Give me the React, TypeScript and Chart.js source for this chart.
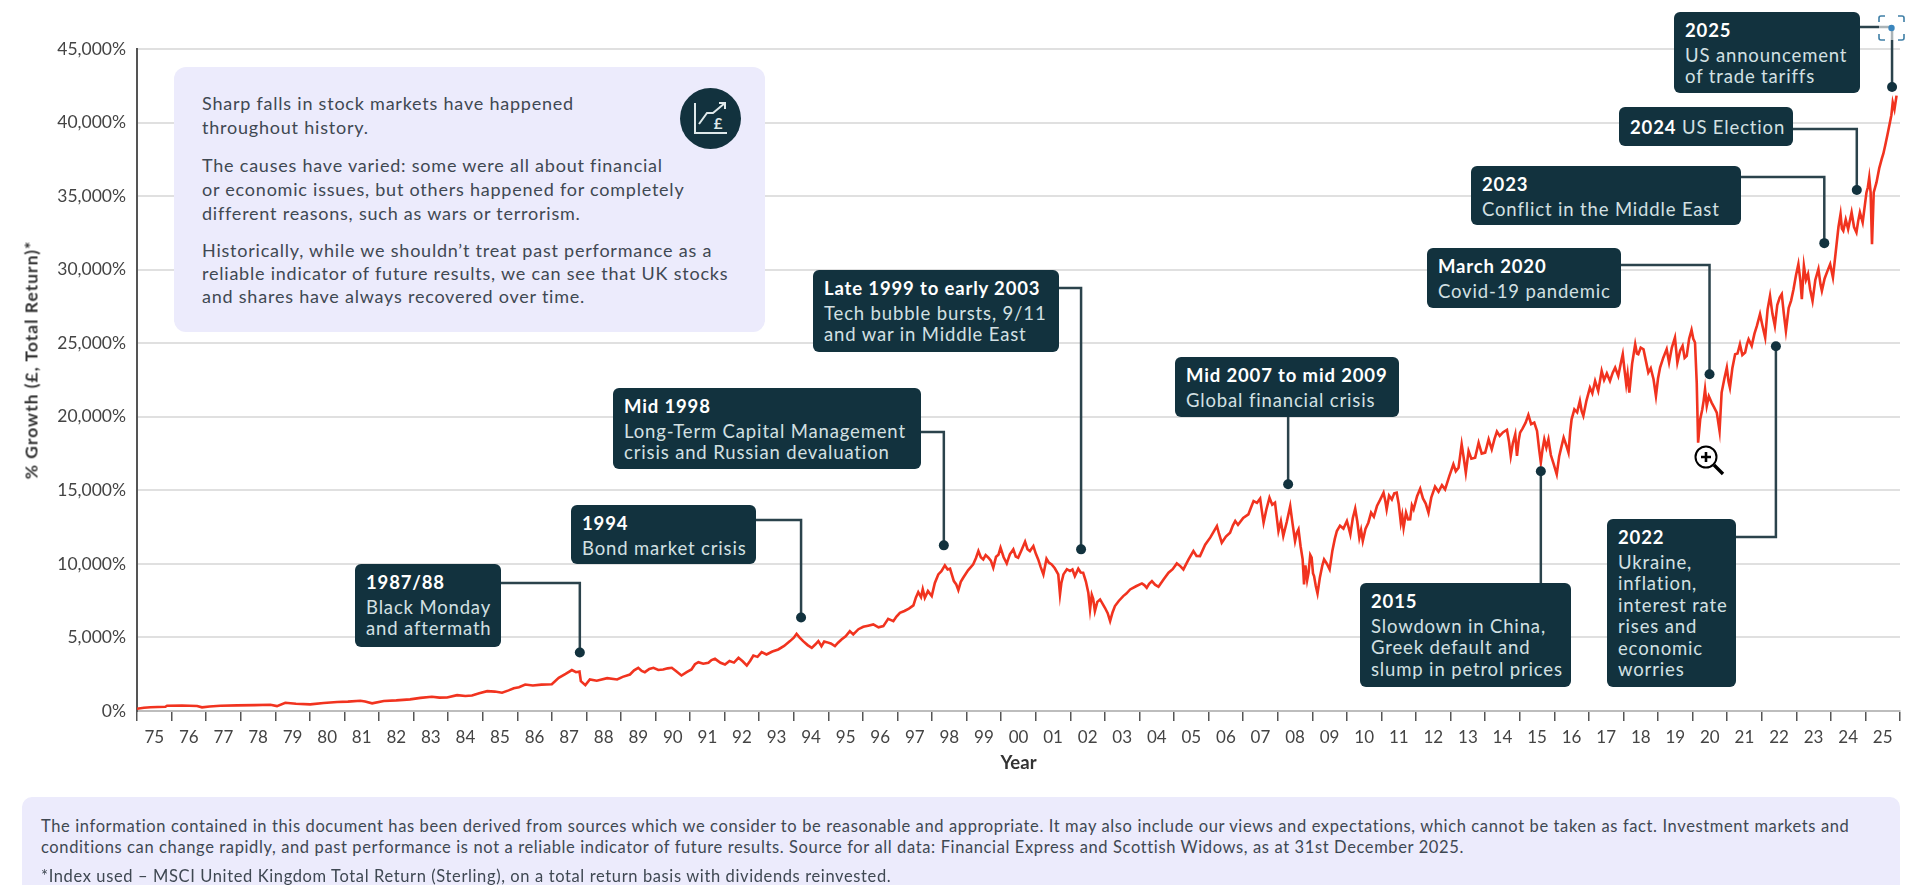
import { useEffect, useRef } from "react";
import Chart from "chart.js/auto";

const yearLabels = [
  "75", "76", "77", "78", "79", "80", "81", "82", "83", "84", "85", "86", "87",
  "88", "89", "90", "91", "92", "93", "94", "95", "96", "97", "98", "99", "00",
  "01", "02", "03", "04", "05", "06", "07", "08", "09", "10", "11", "12", "13",
  "14", "15", "16", "17", "18", "19", "20", "21", "22", "23", "24", "25",
];

// [position along the axis, % growth]
const growthSeries: [number, number][] = [
  [1975, 150], [1975.2, 220], [1975.39, 260], [1975.6, 270], [1975.82, 285], [1975.87, 360], [1976.3, 370], [1976.74, 340], [1976.88, 250],
  [1977.1, 310], [1977.41, 360], [1977.9, 385], [1978.4, 400], [1978.86, 420], [1979.05, 330], [1979.29, 560], [1979.6, 490],
  [1980.01, 450], [1980.4, 540], [1980.79, 615], [1981.1, 640], [1981.46, 700], [1981.6, 640], [1981.8, 520], [1982.14, 680], [1982.5, 720], [1982.9, 790],
  [1983.2, 890], [1983.53, 970], [1983.75, 910], [1983.97, 920], [1984.26, 1080], [1984.5, 1020], [1984.69, 1050], [1984.9, 1210],
  [1985.13, 1350], [1985.35, 1320], [1985.56, 1240], [1985.75, 1400], [1985.9, 1550], [1986.05, 1620], [1986.23, 1800], [1986.45, 1730], [1986.7, 1790], [1987, 1820],
  [1987.2, 2250], [1987.4, 2520], [1987.58, 2780], [1987.7, 2640], [1987.8, 2680], [1987.84, 2030], [1987.97, 1760], [1988.1, 2140], [1988.3, 2060], [1988.6, 2230], [1988.89, 2140],
  [1989.05, 2320], [1989.26, 2480], [1989.38, 2760], [1989.5, 2935], [1989.6, 2720], [1989.69, 2640], [1989.82, 2860], [1989.94, 2935],
  [1990.08, 2790], [1990.22, 2820], [1990.35, 2900], [1990.47, 2935], [1990.6, 2700], [1990.75, 2413], [1990.9, 2640],
  [1991.04, 2820], [1991.14, 3180], [1991.24, 3320], [1991.38, 3210], [1991.53, 3275], [1991.62, 3460], [1991.72, 3547], [1991.88, 3280],
  [1992.01, 3160], [1992.14, 3400], [1992.27, 3290], [1992.4, 3615], [1992.52, 3380], [1992.64, 3093], [1992.74, 3420], [1992.83, 3774], [1992.95, 3680],
  [1993.07, 3999], [1993.21, 3842], [1993.38, 4040], [1993.55, 4182], [1993.72, 4420], [1993.89, 4750],
  [1994.0, 4980], [1994.08, 5248], [1994.17, 4990], [1994.27, 4750], [1994.4, 4480], [1994.52, 4295], [1994.62, 4520], [1994.71, 4750], [1994.8, 4408], [1994.88, 4720], [1994.95, 4681],
  [1995.07, 4590], [1995.19, 4408], [1995.28, 4640], [1995.38, 4862], [1995.5, 5080], [1995.62, 5430], [1995.72, 5203], [1995.87, 5560],
  [1996.01, 5724], [1996.15, 5800], [1996.3, 5883], [1996.45, 5690], [1996.59, 5770], [1996.73, 6269], [1996.88, 6110], [1996.97, 6420],
  [1997.07, 6677], [1997.2, 6800], [1997.33, 6960], [1997.46, 7176], [1997.53, 7700], [1997.6, 8083], [1997.68, 7740], [1997.73, 8280], [1997.79, 7698], [1997.88, 8150], [1997.99, 7811],
  [1998.08, 8700], [1998.18, 9285], [1998.27, 9500], [1998.37, 9897], [1998.45, 9620], [1998.52, 9670], [1998.63, 8831], [1998.7, 8600], [1998.76, 8219], [1998.83, 8780], [1998.9, 9058],
  [1999.04, 9560], [1999.19, 9966], [1999.27, 10400], [1999.34, 10873], [1999.41, 10450], [1999.48, 10306], [1999.55, 10600], [1999.63, 10419], [1999.7, 10220], [1999.77, 9739], [1999.85, 10480], [1999.92, 10620], [1999.98, 11100],
  [2000.07, 10450], [2000.16, 10033], [2000.25, 10650], [2000.35, 10986], [2000.42, 10500], [2000.49, 10419], [2000.58, 10900], [2000.69, 11508], [2000.76, 11000], [2000.83, 10873], [2000.93, 11213],
  [2001.0, 10700], [2001.07, 10306], [2001.14, 9800], [2001.22, 9285], [2001.31, 10351], [2001.38, 10080], [2001.46, 9966], [2001.55, 9700], [2001.65, 9285], [2001.7, 7925], [2001.74, 8700], [2001.8, 9285], [2001.9, 9640], [2001.99, 9512],
  [2002.06, 9620], [2002.13, 9172], [2002.23, 9670], [2002.3, 9420], [2002.37, 9399], [2002.45, 8800], [2002.52, 8038], [2002.57, 6904], [2002.62, 7900], [2002.66, 7630], [2002.71, 6790], [2002.78, 7420], [2002.86, 7585], [2002.93, 7300],
  [2003.0, 7017], [2003.08, 6650], [2003.15, 6110], [2003.22, 6700], [2003.29, 7131], [2003.4, 7480], [2003.53, 7811], [2003.62, 7980], [2003.73, 8264], [2003.9, 8480],
  [2004.07, 8672], [2004.14, 8560], [2004.21, 8378], [2004.28, 8640], [2004.36, 8831], [2004.45, 8590], [2004.55, 8446], [2004.7, 8950], [2004.84, 9398], [2004.96, 9640],
  [2005.08, 10034], [2005.18, 9850], [2005.27, 9625], [2005.42, 10300], [2005.56, 10873], [2005.65, 10540], [2005.75, 10532], [2005.9, 11300],
  [2006.05, 11800], [2006.24, 12574], [2006.3, 12050], [2006.38, 11440], [2006.5, 11860], [2006.62, 12120], [2006.7, 12600], [2006.77, 12914], [2006.85, 12650], [2007.0, 13120],
  [2007.15, 13367], [2007.22, 13800], [2007.3, 14274], [2007.4, 14150], [2007.49, 14433], [2007.54, 13600], [2007.59, 12800], [2007.67, 13700], [2007.76, 14501], [2007.84, 14020], [2007.92, 14161],
  [2007.97, 13200], [2008.02, 12233], [2008.09, 12900], [2008.16, 11893], [2008.26, 12850], [2008.36, 13934], [2008.43, 12700], [2008.5, 11553], [2008.55, 12100], [2008.6, 12347], [2008.66, 11200], [2008.72, 10306], [2008.76, 8604], [2008.8, 9900], [2008.85, 8900], [2008.89, 9398], [2008.94, 10600], [2008.98, 10419],
  [2009.02, 9350], [2009.05, 9172], [2009.1, 8500], [2009.15, 7992], [2009.22, 9100], [2009.29, 9900], [2009.34, 10306], [2009.42, 10010], [2009.5, 9625], [2009.58, 10900], [2009.65, 11700], [2009.71, 12233], [2009.8, 12600], [2009.9, 12400],
  [2010.0, 12914], [2010.05, 12480], [2010.1, 12007], [2010.17, 13100], [2010.24, 13753], [2010.3, 12900], [2010.36, 11780], [2010.41, 12300], [2010.46, 11553], [2010.54, 12400], [2010.62, 12800], [2010.7, 13480], [2010.78, 13200], [2010.87, 13934], [2010.96, 14350],
  [2011.06, 14842], [2011.11, 14300], [2011.15, 13707], [2011.22, 14650], [2011.3, 14380], [2011.37, 14800], [2011.44, 14842], [2011.5, 14050], [2011.56, 12800], [2011.6, 13300], [2011.64, 12460], [2011.71, 13481], [2011.77, 13020], [2011.83, 13027], [2011.88, 13980], [2011.93, 13707],
  [2012.03, 14600], [2012.12, 15114], [2012.2, 14450], [2012.28, 14100], [2012.36, 13481], [2012.44, 14500], [2012.55, 15250], [2012.65, 14900], [2012.75, 15350], [2012.84, 15068], [2012.96, 15950],
  [2013.08, 16769], [2013.15, 16300], [2013.23, 16542], [2013.32, 18130], [2013.38, 17200], [2013.44, 16202], [2013.52, 17677], [2013.6, 17150], [2013.71, 17223], [2013.81, 18244], [2013.9, 17500],
  [2014.0, 17563], [2014.05, 18000], [2014.1, 18470], [2014.19, 17790], [2014.27, 18500], [2014.34, 18992], [2014.42, 18700], [2014.52, 18950], [2014.63, 19105], [2014.69, 18300], [2014.74, 17336], [2014.8, 18200], [2014.87, 18810], [2014.92, 17336], [2014.97, 18400],
  [2015.01, 18924], [2015.08, 19200], [2015.17, 19600], [2015.25, 20126], [2015.33, 19500], [2015.42, 19600], [2015.5, 19037], [2015.56, 17800], [2015.61, 16883], [2015.66, 17800], [2015.71, 18470], [2015.77, 17900], [2015.83, 18470], [2015.9, 17400], [2015.98, 16800],
  [2016.07, 16089], [2016.14, 17300], [2016.2, 17900], [2016.27, 18584], [2016.34, 18100], [2016.41, 17563], [2016.46, 19000], [2016.5, 19829], [2016.58, 20500], [2016.66, 20300], [2016.74, 21079], [2016.79, 20400], [2016.84, 20058], [2016.93, 21100],
  [2017.03, 21983], [2017.1, 21600], [2017.18, 22437], [2017.27, 21757], [2017.37, 23118], [2017.44, 22500], [2017.52, 22950], [2017.61, 22437], [2017.69, 23000], [2017.76, 23345], [2017.85, 22777], [2017.92, 23600], [2017.98, 24251],
  [2018.03, 23200], [2018.08, 22210], [2018.12, 22900], [2018.17, 21643], [2018.25, 23600], [2018.34, 24932], [2018.39, 24300], [2018.43, 24251], [2018.5, 24700], [2018.58, 24592], [2018.65, 23800], [2018.72, 23004], [2018.79, 23300], [2018.87, 22550], [2018.94, 21416],
  [2019.0, 22600], [2019.06, 23345], [2019.15, 24000], [2019.25, 24592], [2019.32, 23685], [2019.4, 24700], [2019.49, 25385], [2019.56, 23685], [2019.64, 24500], [2019.71, 24819], [2019.77, 24000], [2019.83, 24138], [2019.9, 25300], [2019.97, 25907],
  [2020.02, 25300], [2020.07, 25045], [2020.12, 22324], [2020.16, 18241], [2020.22, 19829], [2020.28, 20500], [2020.32, 21100], [2020.36, 21870], [2020.41, 20736], [2020.47, 21400], [2020.55, 20963], [2020.62, 20650], [2020.7, 20282], [2020.78, 19035], [2020.84, 21643], [2020.92, 22600], [2020.99, 23345],
  [2021.04, 22400], [2021.08, 21983], [2021.15, 23300], [2021.23, 24251], [2021.3, 24300], [2021.37, 24932], [2021.44, 24200], [2021.52, 24365], [2021.57, 24900], [2021.62, 25272], [2021.71, 24819], [2021.79, 25650], [2021.86, 26179], [2021.95, 26973],
  [2022.02, 26200], [2022.1, 25385], [2022.17, 27300], [2022.24, 28220], [2022.31, 27000], [2022.38, 26179], [2022.45, 27600], [2022.52, 28100], [2022.58, 28334], [2022.64, 27000], [2022.7, 25839], [2022.78, 27400], [2022.85, 27900], [2022.92, 28674],
  [2022.99, 29600], [2023.06, 30375], [2023.12, 29200], [2023.16, 27994], [2023.22, 30262], [2023.28, 29300], [2023.34, 29700], [2023.4, 28674], [2023.47, 27880], [2023.55, 29300], [2023.64, 30035], [2023.7, 29000], [2023.74, 28561], [2023.82, 29400], [2023.9, 29900], [2023.98, 30375],
  [2024.06, 29468], [2024.16, 31621], [2024.22, 32900], [2024.28, 33776], [2024.32, 32800], [2024.36, 32642], [2024.43, 33400], [2024.5, 32755], [2024.6, 33889], [2024.67, 32900], [2024.74, 32528], [2024.79, 33300], [2024.84, 33889], [2024.92, 33209],
  [2025.03, 35250], [2025.07, 35600], [2025.11, 36271], [2025.15, 35250], [2025.19, 31735], [2025.24, 35250], [2025.32, 35931], [2025.4, 36900], [2025.47, 37518], [2025.52, 37900], [2025.57, 38425], [2025.64, 39200], [2025.71, 40013], [2025.75, 40500], [2025.79, 41374], [2025.84, 40900], [2025.9, 41827],
];

// each callout points at a spot on the chart given in axis units
const calloutYears = [1987.81, 1994.21, 1998.34, 2002.31, 2008.3, 2015.61, 2022.41, 2020.49, 2023.81, 2024.75, 2025.77];
const calloutValues = [3980, 6360, 11259, 10987, 15409, 16293, 24797, 22892, 31804, 35410, 42417];
const calloutHeadings = [
  "1987/88", "1994", "Mid 1998", "Late 1999 to early 2003", "Mid 2007 to mid 2009",
  "2015", "2022", "March 2020", "2023", "2024", "2025",
];
const calloutBodies = [
  ["Black Monday", "and aftermath"],
  ["Bond market crisis"],
  ["Long-Term Capital Management", "crisis and Russian devaluation"],
  ["Tech bubble bursts, 9/11", "and war in Middle East"],
  ["Global financial crisis"],
  ["Slowdown in China,", "Greek default and", "slump in petrol prices"],
  ["Ukraine,", "inflation,", "interest rate", "rises and", "economic", "worries"],
  ["Covid-19 pandemic"],
  ["Conflict in the Middle East"],
  ["US Election"],
  ["US announcement", "of trade tariffs"],
];

// box geometry on the page: left, top, right, bottom, and the height of the elbow (0 = straight stem)
const calloutBoxes = [
  [355, 564, 501, 647, 583],
  [571, 505, 756, 564, 520],
  [613, 388, 921, 469, 432],
  [813, 270, 1059, 352, 288],
  [1175, 357, 1399, 417, 0],
  [1360, 583, 1571, 687, 0],
  [1607, 519, 1736, 687, 537],
  [1427, 248, 1621, 308, 265],
  [1471, 166, 1741, 225, 177],
  [1619, 107, 1793, 146, 129],
  [1674, 12, 1860, 93, 27],
];

const FONT = "Lato, sans-serif";
const INK = "#12323e";
const LAVENDER = "#ecebfc";

const connectorPlugin = {
  id: "connectors",
  afterDatasetsDraw(chart: Chart) {
    const { ctx, scales } = chart;
    ctx.save();
    ctx.strokeStyle = "#2b434c";
    ctx.fillStyle = INK;
    ctx.lineWidth = 2.5;
    calloutYears.forEach((year, i) => {
      const x = scales.xYear.getPixelForValue(year);
      const y = scales.y.getPixelForValue(calloutValues[i]);
      const [, top, right, bottom, elbow] = calloutBoxes[i];
      ctx.beginPath();
      if (elbow) {
        ctx.moveTo(right, elbow);
        ctx.lineTo(x, elbow);
      } else {
        ctx.moveTo(x, (top + bottom) / 2);
      }
      ctx.lineTo(x, y);
      ctx.stroke();
      ctx.beginPath();
      ctx.arc(x, y, 5, 0, Math.PI * 2);
      ctx.fill();
    });
    ctx.restore();
  },
};

const pageText = { position: "absolute", fontFamily: FONT, whiteSpace: "nowrap" } as const;
const panelText = { ...pageText, left: 202, fontSize: 18, letterSpacing: 0.78, color: "#3f4852" } as const;
const footerText = { ...pageText, left: 41, fontSize: 16.5, letterSpacing: 0.62, lineHeight: "21px", color: "#3f4852" } as const;

export default function App() {
  const chartRef = useRef<HTMLCanvasElement>(null);

  useEffect(() => {
    if (!chartRef.current) return;
    const chart = new Chart(chartRef.current, {
      type: "line",
      data: {
        datasets: [
          {
            data: growthSeries.map(([x, y]) => ({ x, y })),
            xAxisID: "xYear",
            borderColor: "#f1331f",
            borderWidth: 2.6,
            pointRadius: 0,
            tension: 0,
          },
        ],
      },
      options: {
        responsive: false,
        animation: false,
        layout: { padding: { top: 49, right: 20, left: 0, bottom: 0 } },
        plugins: { legend: { display: false }, tooltip: { enabled: false } },
        scales: {
          x: {
            type: "category",
            labels: yearLabels,
            offset: true,
            afterFit: (scale) => {
              scale.height = 180;
            },
            grid: {
              offset: true,
              drawOnChartArea: false,
              tickLength: 10,
              tickColor: "#555",
              lineWidth: 1.5,
            },
            border: { color: "#bdbdbd", width: 2 },
            ticks: {
              autoSkip: false,
              maxRotation: 0,
              padding: 6,
              color: "#444",
              font: { family: FONT, size: 17 },
            },
            title: {
              display: true,
              text: "Year",
              color: "#333",
              font: { family: FONT, size: 18.5, weight: "bold" },
              padding: { top: 0, bottom: 117 },
            },
          },
          xYear: { type: "linear", display: false, min: 1975, max: 2026 },
          y: {
            min: 0,
            max: 45000,
            afterFit: (scale) => {
              scale.width = 137;
            },
            grid: { color: "#e0e0e0", lineWidth: 2, drawTicks: false },
            border: { color: "#555", width: 2 },
            ticks: {
              stepSize: 5000,
              padding: 11,
              color: "#444",
              font: { family: FONT, size: 17.5 },
              callback: (value) => Number(value).toLocaleString("en-GB") + "%",
            },
          },
        },
      },
      plugins: [connectorPlugin],
    });
    return () => chart.destroy();
  }, []);

  return (
    <div style={{ position: "absolute", left: 0, top: 0, width: 1920, height: 891, overflow: "hidden", background: "#fff" }}>
      <canvas ref={chartRef} width={1920} height={891} style={{ display: "block" }} />

      <div
        style={{
          ...pageText,
          left: 31,
          top: 360,
          transform: "translate(-50%, -50%) rotate(-90deg)",
          fontSize: 17.5,
          letterSpacing: 1,
          fontWeight: 700,
          color: "#333",
        }}
      >
        % Growth (£, Total Return)*
      </div>

      <div style={{ position: "absolute", left: 174, top: 67, width: 591, height: 265, background: LAVENDER, borderRadius: 12 }} />
      <div style={{ ...panelText, top: 91, lineHeight: "24px" }}>
        Sharp falls in stock markets have happened
        <br />
        throughout history.
      </div>
      <div style={{ ...panelText, top: 153, lineHeight: "24px" }}>
        The causes have varied: some were all about financial
        <br />
        or economic issues, but others happened for completely
        <br />
        different reasons, such as wars or terrorism.
      </div>
      <div style={{ ...panelText, top: 239, lineHeight: "23px" }}>
        Historically, while we shouldn’t treat past performance as a
        <br />
        reliable indicator of future results, we can see that UK stocks
        <br />
        and shares have always recovered over time.
      </div>
      <svg style={{ position: "absolute", left: 680, top: 88 }} width={61} height={61} viewBox="0 0 61 61">
        <circle cx={30.5} cy={30.5} r={30.5} fill={INK} />
        <path d="M15 15V45H47" fill="none" stroke="#dfe9ea" strokeWidth={2} />
        <path d="M19 36L27 25H33L45 15M39 15H45V21" fill="none" stroke="#dfe9ea" strokeWidth={2} />
        <text x={38} y={41} fontSize={15} fontWeight={700} fontFamily={FONT} fill="#dfe9ea" textAnchor="middle">
          £
        </text>
      </svg>

      {calloutHeadings.map((heading, i) => {
        const [left, top, right, bottom] = calloutBoxes[i];
        const body = calloutBodies[i];
        const oneLine = heading === "2024";
        return (
          <div
            key={heading}
            style={{
              ...pageText,
              left,
              top,
              width: right - left,
              height: bottom - top,
              boxSizing: "border-box",
              padding: oneLine ? "10px 11px" : "8px 11px",
              background: INK,
              borderRadius: 6,
              color: "#d3e0e3",
              fontSize: 18.5,
              letterSpacing: 0.85,
              lineHeight: "21.5px",
            }}
          >
            {oneLine ? (
              <div>
                <b style={{ color: "#fff" }}>{heading}</b> {body[0]}
              </div>
            ) : (
              <>
                <div style={{ color: "#fff", fontWeight: 700, marginBottom: 3 }}>{heading}</div>
                {body.map((line) => (
                  <div key={line}>{line}</div>
                ))}
              </>
            )}
          </div>
        );
      })}

      <div style={{ position: "absolute", left: 22, top: 797, width: 1878, height: 88, background: LAVENDER, borderRadius: "10px 10px 0 0" }} />
      <div style={{ ...footerText, top: 816 }}>
        The information contained in this document has been derived from sources which we consider to be reasonable and appropriate. It may also include our views and expectations, which cannot be taken as fact. Investment markets and
        <br />
        conditions can change rapidly, and past performance is not a reliable indicator of future results. Source for all data: Financial Express and Scottish Widows, as at 31st December 2025.
      </div>
      <div style={{ ...footerText, top: 866 }}>
        *Index used – MSCI United Kingdom Total Return (Sterling), on a total return basis with dividends reinvested.
      </div>

      {/* focus bracket and magnifier pointer captured in the screenshot */}
      <svg style={{ position: "absolute", left: 1876, top: 12 }} width={32} height={32} viewBox="0 0 32 32">
        <rect x={3} y={4} width={25} height={24} fill="#fff" opacity={0.6} />
        <path d="M3 10V6a2 2 0 0 1 2-2h4M22 4h4a2 2 0 0 1 2 2v4M28 22v4a2 2 0 0 1-2 2h-4M9 28H5a2 2 0 0 1-2-2v-4" fill="none" stroke="#3f7fa6" strokeWidth={1.6} />
        <circle cx={15.5} cy={16} r={3.2} fill="#3b86bd" />
      </svg>
      <svg style={{ position: "absolute", left: 1692, top: 443 }} width={36} height={36} viewBox="0 0 36 36">
        <circle cx={14} cy={14} r={10.5} fill="#fff" stroke="#000" strokeWidth={2} />
        <path d="M9 14H19M14 9V19" stroke="#000" strokeWidth={2.6} />
        <path d="M22 22L31 31" stroke="#000" strokeWidth={3.4} />
      </svg>
    </div>
  );
}
